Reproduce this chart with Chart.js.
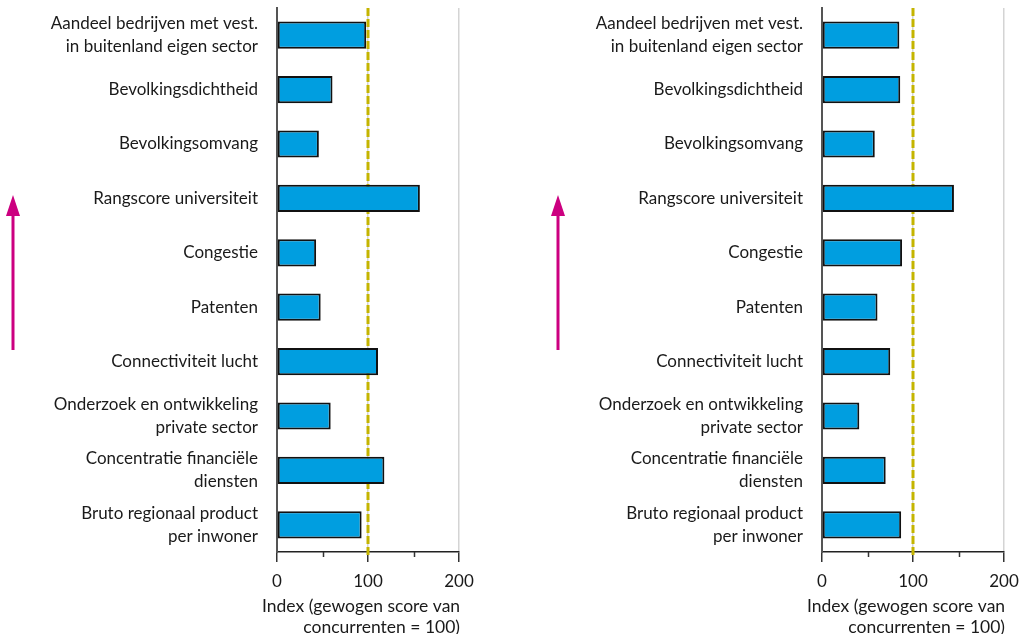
<!DOCTYPE html>
<html>
<head>
<meta charset="utf-8">
<script src="https://cdn.jsdelivr.net/npm/chart.js@4/dist/chart.umd.min.js"></script>
<style>
  html, body { margin: 0; padding: 0; background: #fff; }
  .panel { position: absolute; top: 0; width: 480px; height: 634px; }
  #left { left: 0; }
  #right { left: 545px; }
</style>
</head>
<body>
<div class="panel" id="left"><canvas id="chartLeft"></canvas></div>
<div class="panel" id="right"><canvas id="chartRight"></canvas></div>
<script>
const categories = [
  ['Aandeel bedrijven met vest.', 'in buitenland eigen sector'],
  'Bevolkingsdichtheid',
  'Bevolkingsomvang',
  'Rangscore universiteit',
  'Congestie',
  'Patenten',
  'Connectiviteit lucht',
  ['Onderzoek en ontwikkeling', 'private sector'],
  ['Concentratie financiële', 'diensten'],
  ['Bruto regionaal product', 'per inwoner']
];

const valuesLeft = [98, 61, 46, 157, 43, 48, 111, 59, 118, 93];
const valuesRight = [85, 86, 58, 145, 88, 61, 75, 41, 70, 87];

const xTicks = [0, 50, 100, 150, 200];
const referenceValue = 100;
const axisTitle = ['Index (gewogen score van', 'concurrenten = 100)'];

const textColor = '#1a1a1a';
const fontFamily = 'Lato, "Noto Sans", sans-serif';

// dashed reference line, short minor ticks, arrow and axis title
const extras = {
  id: 'extras',
  beforeDatasetsDraw(chart) {
    const ctx = chart.ctx;
    const x = chart.scales.x.getPixelForValue(referenceValue);
    const area = chart.chartArea;
    ctx.save();
    ctx.strokeStyle = '#c4b400';
    ctx.lineWidth = 3;
    ctx.setLineDash([8, 3]);
    ctx.beginPath();
    ctx.moveTo(x, area.top);
    ctx.lineTo(x, area.bottom + 4);
    ctx.stroke();
    ctx.restore();
  },
  afterDraw(chart) {
    const ctx = chart.ctx;
    const area = chart.chartArea;
    const xs = chart.scales.x;
    ctx.save();
    // minor ticks at 50 and 150
    ctx.strokeStyle = '#333';
    ctx.lineWidth = 1.5;
    xTicks.filter(v => v % 100 !== 0).forEach(v => {
      const px = Math.round(xs.getPixelForValue(v)) + 0.5;
      ctx.beginPath();
      ctx.moveTo(px, area.bottom);
      ctx.lineTo(px, area.bottom + 5);
      ctx.stroke();
    });

    // upward arrow
    ctx.strokeStyle = '#cc0080';
    ctx.fillStyle = '#cc0080';
    ctx.lineWidth = 3;
    ctx.beginPath();
    ctx.moveTo(13, 350);
    ctx.lineTo(13, 212);
    ctx.stroke();
    ctx.beginPath();
    ctx.moveTo(13, 195);
    ctx.lineTo(6, 216);
    ctx.lineTo(20, 216);
    ctx.closePath();
    ctx.fill();

    // axis title
    ctx.fillStyle = textColor;
    ctx.font = '17.5px ' + fontFamily;
    ctx.textBaseline = 'middle';
    ctx.textAlign = 'left';
    ctx.fillText(axisTitle[0], area.left - 15, 606);
    ctx.textAlign = 'right';
    ctx.fillText(axisTitle[1], area.right + 1, 627);
    ctx.restore();
  }
};

function makeChart(id, values) {
  return new Chart(document.getElementById(id), {
    type: 'bar',
    data: {
      labels: categories,
      datasets: [{
        data: values,
        backgroundColor: '#009ee0',
        borderColor: '#111',
        borderWidth: 2,
        borderSkipped: false,
        barPercentage: 0.5,
        categoryPercentage: 1
      }]
    },
    options: {
      indexAxis: 'y',
      responsive: true,
      maintainAspectRatio: false,
      animation: false,
      layout: { padding: { top: 8, right: 21, left: 0, bottom: 0 } },
      plugins: {
        legend: { display: false },
        tooltip: { enabled: false }
      },
      scales: {
        x: {
          min: 0,
          max: 200,
          afterFit: scale => {
            scale.height = 82;
            scale.paddingLeft = 0;
            scale.paddingRight = 0;
          },
          afterBuildTicks: scale => { scale.ticks = xTicks.map(v => ({ value: v })); },
          ticks: {
            color: textColor,
            font: { size: 17, family: fontFamily },
            padding: 9,
            maxRotation: 0,
            callback: v => (v % 100 === 0 ? String(v) : '')
          },
          grid: {
            color: c => (c.tick && (c.tick.value === 100 || c.tick.value === 200) ? '#d4d4d4' : 'rgba(0,0,0,0)'),
            tickColor: c => (c.tick && c.tick.value % 100 === 0 ? '#333' : 'rgba(0,0,0,0)'),
            tickLength: 10,
            lineWidth: 1.5
          },
          border: { display: true, color: '#222', width: 1.5 }
        },
        y: {
          afterFit: scale => {
            scale.width = 277;
            scale.paddingTop = 0;
            scale.paddingBottom = 0;
          },
          ticks: {
            color: textColor,
            font: { size: 17, family: fontFamily, lineHeight: 1.35 },
            padding: 19
          },
          grid: { color: 'rgba(0,0,0,0)', drawTicks: false },
          border: { display: true, color: '#555', width: 2 }
        }
      }
    },
    plugins: [extras]
  });
}

makeChart('chartLeft', valuesLeft);
makeChart('chartRight', valuesRight);
</script>
</body>
</html>
